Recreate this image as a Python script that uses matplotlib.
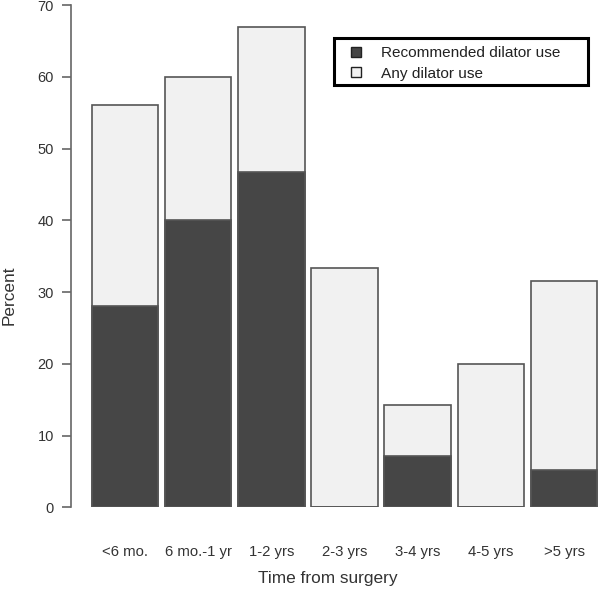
import numpy as np
import matplotlib.pyplot as plt
from matplotlib.patches import Patch, Rectangle

plt.rcParams['font.family'] = ['Liberation Sans', 'DejaVu Sans']

# data
categories = ['<6 mo.', '6 mo.-1 yr', '1-2 yrs', '2-3 yrs', '3-4 yrs', '4-5 yrs', '>5 yrs']
any_use = [56.0, 60.0, 67.0, 33.3, 14.3, 20.0, 31.6]
recommended = [28.0, 40.0, 46.7, 0.0, 7.1, 0.0, 5.2]

dark = '#464646'
light = '#f1f1f1'
edge = '#555555'
txt = '#333333'

W, H = 600, 591
fig = plt.figure(figsize=(6, 5.91), dpi=100)
ax = fig.add_axes([71/W, 1 - 507.3/H, 1 - 71/W, (507.3 - 5)/H])

x = np.arange(len(categories)) * 1.1
ax.bar(x, any_use, width=1, color=light, edgecolor=edge, linewidth=1.2, zorder=2)
ax.bar(x, recommended, width=1, color=dark, edgecolor=edge, linewidth=1.2, zorder=3)

ax.set_xlim(-0.812, 7.14)
ax.set_ylim(0, 70)
ax.set_yticks(range(0, 71, 10))
for s in ['top', 'right', 'bottom']:
    ax.spines[s].set_visible(False)
ax.spines['left'].set_color('#666666')
ax.spines['left'].set_linewidth(1.2)
ax.spines['left'].set_bounds(0, 70)
ax.tick_params(axis='y', length=6.3, width=1.2, color='#666666', labelsize=10.5,
               labelcolor=txt, pad=6)
ax.set_xticks(x)
ax.set_xticklabels(categories)
ax.tick_params(axis='x', length=0, pad=27, labelsize=10.7, labelcolor=txt)

fig.text(328/W, 1 - 578/H, 'Time from surgery', ha='center',
         va='center', fontsize=12.4, color=txt)
fig.text(9/W, 1 - 295/H, 'Percent', rotation=90, ha='center', va='center',
         fontsize=12.4, color=txt)

# legend box (R style, wide right padding)
fig.patches.append(Rectangle((334/W, 1 - 85/H), (588 - 334)/W, (85 - 38)/H,
                             transform=fig.transFigure, fill=False,
                             edgecolor='black', linewidth=2.2, zorder=5))
handles = [Patch(facecolor=dark, edgecolor='#222222', linewidth=1),
           Patch(facecolor=light, edgecolor='#222222', linewidth=1)]
leg = ax.legend(handles, ['Recommended dilator use', 'Any dilator use'],
                loc='center left', bbox_to_anchor=(351/W, 1 - 63.5/H),
                bbox_transform=fig.transFigure, frameon=False,
                fontsize=11.1, handlelength=0.65, handleheight=0.65,
                handletextpad=1.3, borderpad=0, labelspacing=0.4, borderaxespad=0)
for t in leg.get_texts():
    t.set_color('#222222')

fig.savefig('out.png', dpi=100)
